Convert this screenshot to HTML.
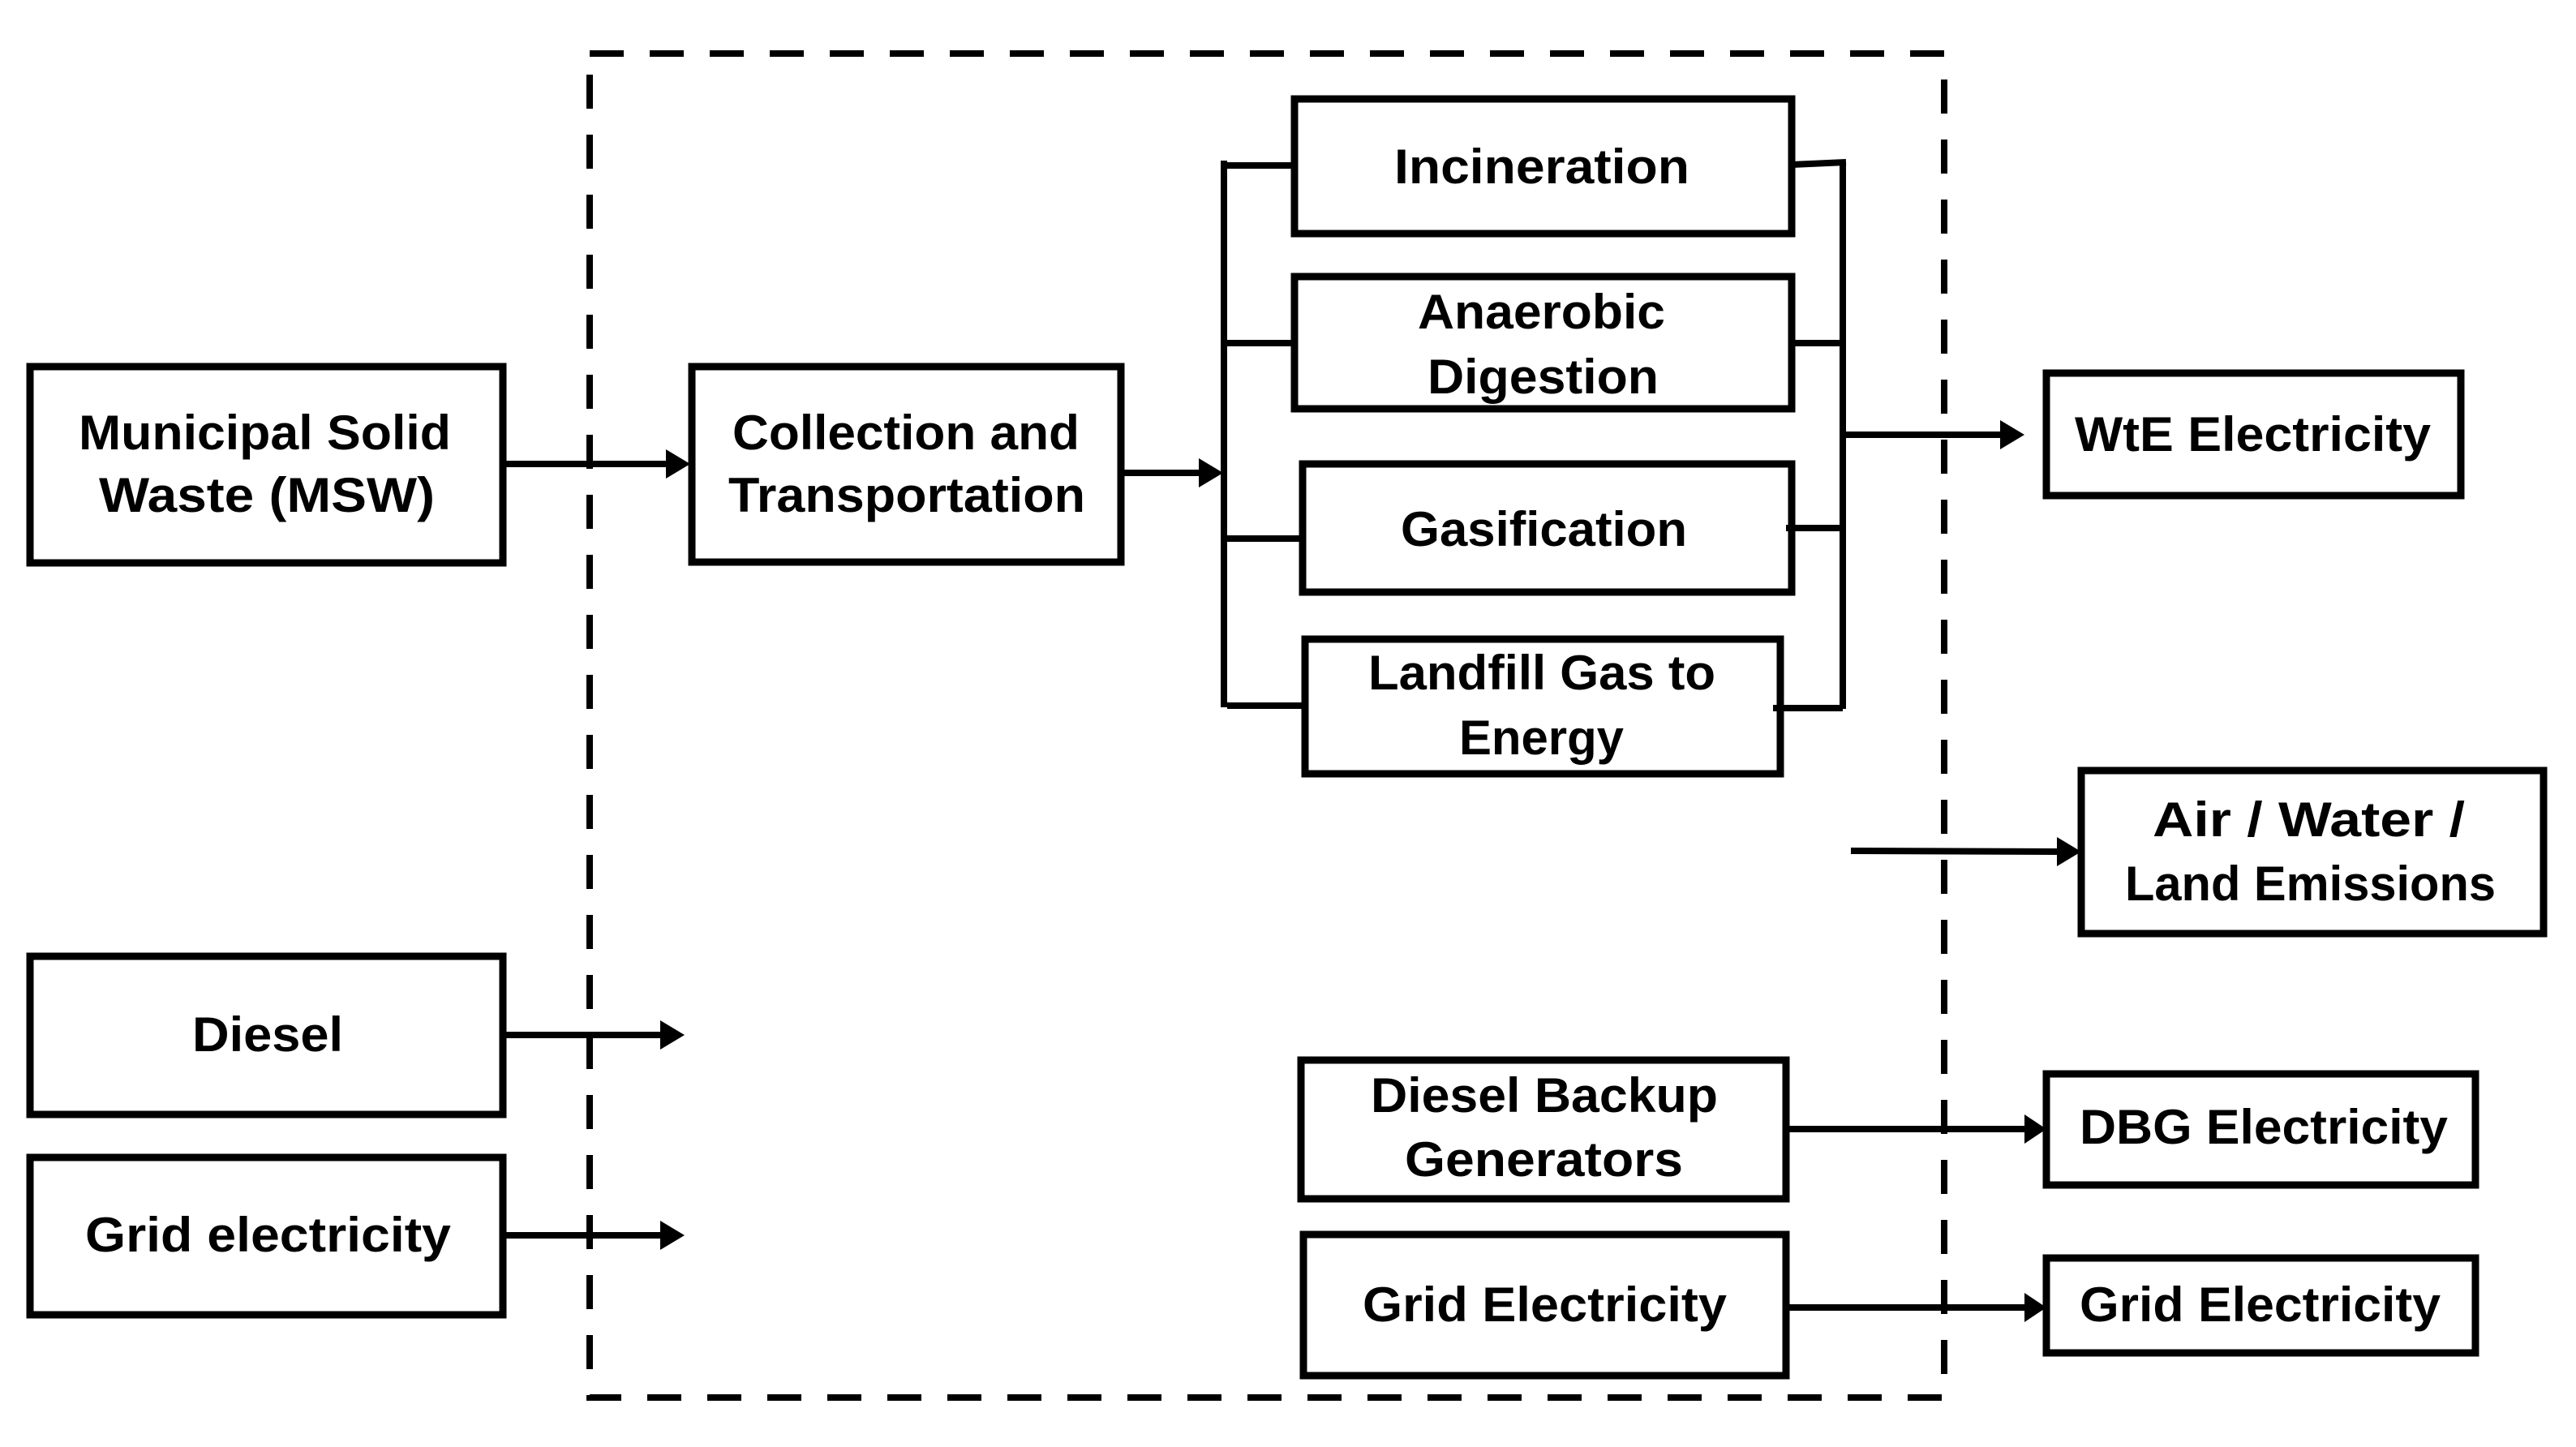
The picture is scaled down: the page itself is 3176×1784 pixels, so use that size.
<!DOCTYPE html>
<html><head><meta charset="utf-8"><style>
html,body{margin:0;padding:0;background:#fff;}
svg{display:block;}
text{font-family:"Liberation Sans",sans-serif;font-weight:bold;font-size:60px;fill:#000;}
</style></head><body>
<svg width="3176" height="1784" viewBox="0 0 3176 1784" xmlns="http://www.w3.org/2000/svg">
<defs>
<marker id="ah" markerWidth="10" markerHeight="10" refX="9" refY="5" orient="auto" markerUnits="userSpaceOnUse" viewBox="0 0 10 10">
</marker>
</defs>
<!-- dashed system boundary -->
<rect x="727" y="66" width="1670" height="1657" fill="none" stroke="#000" stroke-width="8" stroke-dasharray="42,32"/>

<g fill="#fff" stroke="#000" stroke-width="9">
<rect x="37" y="452" width="583" height="242"/>
<rect x="853" y="452" width="529" height="241"/>
<rect x="1596" y="122" width="613" height="166"/>
<rect x="1596" y="341" width="613" height="163"/>
<rect x="1606" y="572" width="603" height="158"/>
<rect x="1609" y="788" width="586" height="166"/>
<rect x="2523" y="460" width="511" height="151"/>
<rect x="2566" y="950" width="570" height="201"/>
<rect x="37" y="1179" width="583" height="195"/>
<rect x="37" y="1427" width="583" height="194"/>
<rect x="1604" y="1307" width="598" height="171"/>
<rect x="2523" y="1324" width="529" height="137"/>
<rect x="1607" y="1522" width="595" height="174"/>
<rect x="2523" y="1551" width="529" height="117"/>
</g>

<g stroke="#000" stroke-width="8" fill="none">
<!-- left bus -->
<line x1="1509" y1="198" x2="1509" y2="872"/>
<line x1="1509" y1="204" x2="1596" y2="204"/>
<line x1="1509" y1="423" x2="1596" y2="423"/>
<line x1="1513" y1="664" x2="1606" y2="664"/>
<line x1="1513" y1="870" x2="1609" y2="870"/>
<!-- right bus -->
<line x1="2272" y1="200" x2="2272" y2="874"/>
<line x1="2209" y1="203" x2="2276" y2="200"/>
<line x1="2209" y1="423" x2="2272" y2="423"/>
<line x1="2202" y1="651" x2="2272" y2="651"/>
<line x1="2186" y1="873" x2="2272" y2="873"/>
<!-- arrow shafts -->
<line x1="620" y1="572" x2="825" y2="572"/>
<line x1="1382" y1="583" x2="1482" y2="583"/>
<line x1="2272" y1="536" x2="2470" y2="536"/>
<line x1="2282" y1="1049" x2="2540" y2="1050"/>
<line x1="620" y1="1276" x2="818" y2="1276"/>
<line x1="620" y1="1523" x2="818" y2="1523"/>
<line x1="2202" y1="1392" x2="2500" y2="1392"/>
<line x1="2202" y1="1612" x2="2500" y2="1612"/>
</g>
<g fill="#000">
<polygon points="821,554 851,572 821,590"/>
<polygon points="1478,565 1508,583 1478,601"/>
<polygon points="2466,518 2496,536 2466,554"/>
<polygon points="2536,1032 2566,1050 2536,1068"/>
<polygon points="814,1258 844,1276 814,1294"/>
<polygon points="814,1505 844,1523 814,1541"/>
<polygon points="2496,1374 2523,1392 2496,1410"/>
<polygon points="2496,1594 2523,1612 2496,1630"/>
</g>

<g>
<text x="97" y="554" textLength="459" lengthAdjust="spacingAndGlyphs">Municipal Solid</text>
<text x="122" y="631" textLength="414" lengthAdjust="spacingAndGlyphs">Waste (MSW)</text>
<text x="903" y="554" textLength="428" lengthAdjust="spacingAndGlyphs">Collection and</text>
<text x="898" y="631" textLength="440" lengthAdjust="spacingAndGlyphs">Transportation</text>
<text x="1719" y="226" textLength="364" lengthAdjust="spacingAndGlyphs">Incineration</text>
<text x="1748" y="405" textLength="305" lengthAdjust="spacingAndGlyphs">Anaerobic</text>
<text x="1760" y="485" textLength="285" lengthAdjust="spacingAndGlyphs">Digestion</text>
<text x="1727" y="673" textLength="353" lengthAdjust="spacingAndGlyphs">Gasification</text>
<text x="1687" y="850" textLength="428" lengthAdjust="spacingAndGlyphs">Landfill Gas to</text>
<text x="1799" y="930" textLength="203" lengthAdjust="spacingAndGlyphs">Energy</text>
<text x="2558" y="556" textLength="439" lengthAdjust="spacingAndGlyphs">WtE Electricity</text>
<text x="2654" y="1031" textLength="385" lengthAdjust="spacingAndGlyphs">Air / Water /</text>
<text x="2620" y="1110" textLength="457" lengthAdjust="spacingAndGlyphs">Land Emissions</text>
<text x="237" y="1296" textLength="186" lengthAdjust="spacingAndGlyphs">Diesel</text>
<text x="105" y="1543" textLength="451" lengthAdjust="spacingAndGlyphs">Grid electricity</text>
<text x="1690" y="1371" textLength="428" lengthAdjust="spacingAndGlyphs">Diesel Backup</text>
<text x="1732" y="1450" textLength="343" lengthAdjust="spacingAndGlyphs">Generators</text>
<text x="2564" y="1410" textLength="454" lengthAdjust="spacingAndGlyphs">DBG Electricity</text>
<text x="1680" y="1629" textLength="449" lengthAdjust="spacingAndGlyphs">Grid Electricity</text>
<text x="2564" y="1629" textLength="445" lengthAdjust="spacingAndGlyphs">Grid Electricity</text>
</g>
</svg>
</body></html>
